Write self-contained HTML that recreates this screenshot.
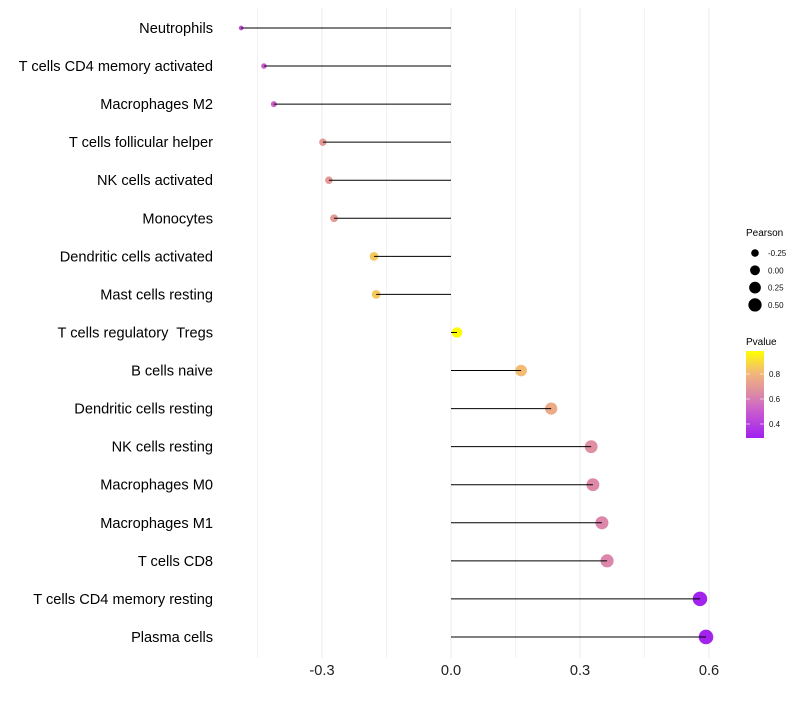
<!DOCTYPE html>
<html><head><meta charset="utf-8"><style>
body{margin:0;background:#fff;font-family:"Liberation Sans",sans-serif}
text{white-space:pre}
</style></head><body>
<svg id="chart" width="800" height="700" xmlns="http://www.w3.org/2000/svg">
<defs><linearGradient id="pg" x1="0" y1="1" x2="0" y2="0">
<stop offset="0" stop-color="#a020f0"/><stop offset="0.3" stop-color="#c85ad0"/><stop offset="0.5" stop-color="#dc88a8"/><stop offset="0.75" stop-color="#f2b878"/><stop offset="1" stop-color="#ffff00"/>
</linearGradient></defs>
<g id="grid"></g><g id="marks"></g><g id="labels"></g>
<g>
<text x="746" y="236" font-size="10" fill="#000">Pearson</text>
<g id="sizeleg"></g>
</g>
<g>
<text x="746" y="345" font-size="10" fill="#000">Pvalue</text>
<rect x="746" y="351" width="18" height="87" fill="url(#pg)"/>
<g id="cbticks"></g>
</g>
</svg>
<script>
const cells=["Neutrophils","T cells CD4 memory activated","Macrophages M2","T cells follicular helper","NK cells activated","Monocytes","Dendritic cells activated","Mast cells resting","T cells regulatory  Tregs","B cells naive","Dendritic cells resting","NK cells resting","Macrophages M0","Macrophages M1","T cells CD8","T cells CD4 memory resting","Plasma cells"];
const pearson=[-0.488,-0.435,-0.412,-0.298,-0.284,-0.272,-0.179,-0.174,0.014,0.163,0.233,0.326,0.330,0.351,0.363,0.579,0.593];
const pvalue=[0.45,0.5,0.52,0.7,0.7,0.7,0.85,0.85,0.98,0.82,0.76,0.66,0.64,0.63,0.63,0.3,0.3];
const xTicks=[-0.3,0,0.3,0.6];
const xTickLabels=["-0.3","0.0","0.3","0.6"];
const minorTicks=[-0.45,-0.15,0.15,0.45];
const sizeLegVals=[-0.25,0,0.25,0.5];
const cbVals=[0.4,0.6,0.8];

const NS="http://www.w3.org/2000/svg";
const X=v=>451+v*430;
const Y=i=>28+i*38.06;
const R=v=>Math.sqrt(Math.max(1,27+44*v));
const PY=p=>438-(p-0.288)/(0.984-0.288)*87;
const stops=[[0.288,[160,32,240]],[0.49,[200,90,208]],[0.636,[220,136,168]],[0.81,[242,184,120]],[0.984,[255,255,0]]];
function col(p){p=Math.max(0.288,Math.min(0.984,p));for(let k=0;k<stops.length-1;k++){const[a,ca]=stops[k],[b,cb]=stops[k+1];if(p<=b){const t=(p-a)/(b-a);return `rgb(${ca.map((c,j)=>Math.round(c+(cb[j]-c)*t)).join(',')})`;}}return "#ff0";}
function mk(tag,at,parent){const e=document.createElementNS(NS,tag);for(const k in at)e.setAttribute(k,at[k]);parent.appendChild(e);return e;}
const grid=document.getElementById('grid'),marks=document.getElementById('marks'),labels=document.getElementById('labels');
minorTicks.forEach(v=>{const l=mk('line',{x1:X(v),x2:X(v),y1:8,y2:658,stroke:'#f2f2f2','stroke-width':1},grid);

});
xTicks.forEach((v,i)=>{const l=mk('line',{x1:X(v),x2:X(v),y1:8,y2:658,stroke:'#ebebeb','stroke-width':1},grid);


const t=mk('text',{x:X(v),y:675,'font-size':14.6,'text-anchor':'middle',fill:'#222'},labels);t.textContent=xTickLabels[i];

});
cells.forEach((c,i)=>{const y=Y(i);
const t=mk('text',{x:213,y:y+5,'font-size':14.6,'text-anchor':'end',fill:'#000'},labels);t.textContent=c;


const d=mk('circle',{cx:X(pearson[i]),cy:y,r:R(pearson[i]),fill:col(pvalue[i])},marks);


const s=mk('line',{x1:X(0),x2:X(pearson[i]),y1:y,y2:y,stroke:'#000','stroke-width':1},marks);

});
const sl=document.getElementById('sizeleg');
sizeLegVals.forEach((v,i)=>{const y=253+i*17.3;
const d=mk('circle',{cx:755,cy:y,r:R(v)*0.95,fill:'#000'},sl);


const t=mk('text',{x:768,y:y+3,'font-size':8,fill:'#111'},sl);t.textContent=v.toFixed(2);

});
const cb=document.getElementById('cbticks');
cbVals.forEach(v=>{const y=PY(v);
mk('line',{x1:746,x2:750,y1:y,y2:y,stroke:'#fff','stroke-width':0.6},cb);
mk('line',{x1:760,x2:764,y1:y,y2:y,stroke:'#fff','stroke-width':0.6},cb);
const t=mk('text',{x:769,y:y+3,'font-size':8,fill:'#111'},cb);t.textContent=v.toFixed(1);

});
</script>
</body></html>
